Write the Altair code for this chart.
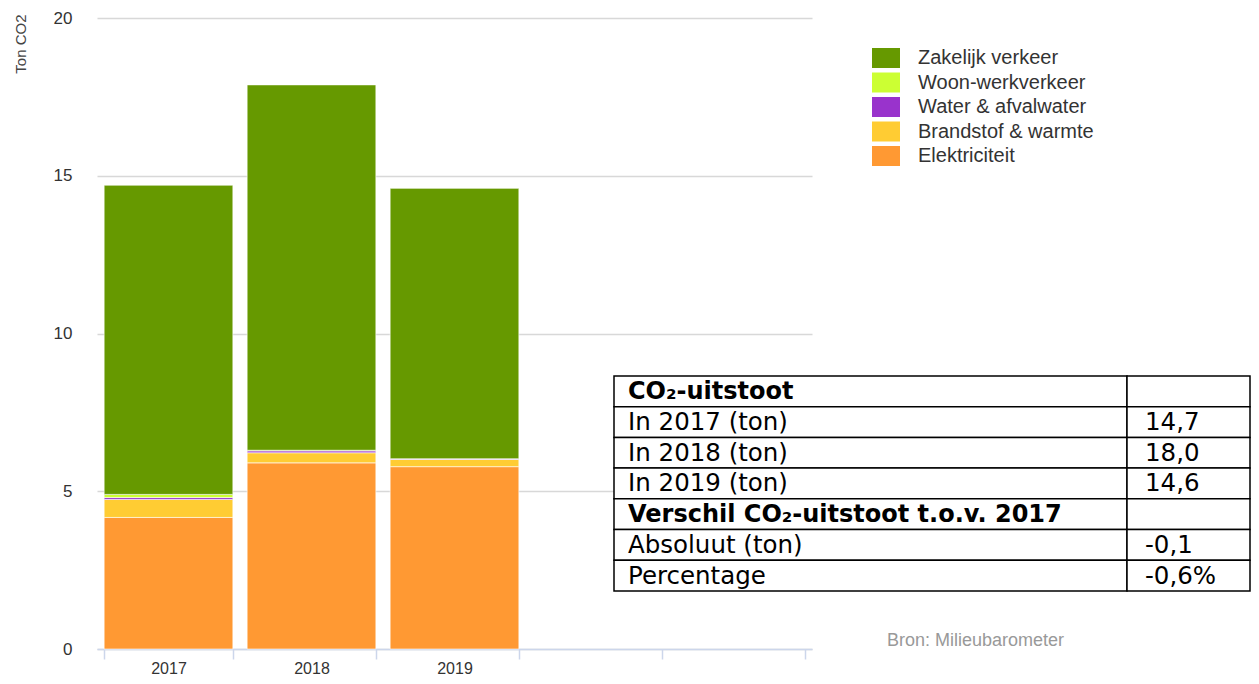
import altair as alt
import pandas as pd

years = ["2017", "2018", "2019"]
empty_slots = ["2020", "2021"]
categories = ["Elektriciteit", "Brandstof & warmte", "Water & afvalwater",
              "Woon-werkverkeer", "Zakelijk verkeer"]
colors = ["#ff9933", "#ffcc33", "#9933cc", "#ccff33", "#669900"]
elektriciteit = [4.17, 5.90, 5.78]
brandstof = [0.57, 0.32, 0.23]
water = [0.06, 0.06, 0.02]
woonwerk = [0.10, 0.02, 0.0]
zakelijk = [9.80, 11.58, 8.57]

table_labels = ["CO₂-uitstoot", "In 2017 (ton)", "In 2018 (ton)", "In 2019 (ton)",
                "Verschil CO₂-uitstoot t.o.v. 2017", "Absoluut (ton)", "Percentage"]
table_values = ["", "14,7", "18,0", "14,6", "", "-0,1", "-0,6%"]
table_bold = [True, False, False, False, True, False, False]

series = [elektriciteit, brandstof, water, woonwerk, zakelijk]
rows = []
for ci, (cat, vals) in enumerate(zip(categories, series)):
    for y, v in zip(years, vals):
        rows.append({"jaar": y, "bron": cat, "waarde": v, "volgorde": ci})
df = pd.DataFrame(rows)

W, H = 715, 631
FONT = "Liberation Sans"

bars = alt.Chart(df).mark_bar(stroke="white", strokeWidth=1, strokeOpacity=0.6).encode(
    x=alt.X("jaar:N", scale=alt.Scale(domain=years + empty_slots, paddingInner=0.1, paddingOuter=0.05),
            axis=alt.Axis(title=None, labelAngle=0, tickBand="extent", tickSize=10,
                          tickColor="#ccd6eb", domainColor="#ccd6eb", tickWidth=1.5, domainWidth=1.5,
                          grid=False,
                          labelExpr="datum.value > '2019' ? '' : datum.value",
                          labelFontSize=16, labelColor="#333", labelFont=FONT, labelPadding=1)),
    y=alt.Y("waarde:Q", stack="zero", scale=alt.Scale(domain=[0, 20]),
            axis=alt.Axis(title="Ton CO2", values=[0, 5, 10, 15, 20], ticks=False,
                          domain=False, gridColor="#d8d8d8", gridWidth=1.5,
                          labelFontSize=17, labelColor="#333", labelFont=FONT, labelPadding=25,
                          titleFont=FONT, titleFontSize=15, titleFontWeight="normal",
                          titleColor="#444", titleAngle=-90, titleAlign="right",
                          titleBaseline="middle", titleX=-77, titleY=-4)),
    color=alt.Color("bron:N", scale=alt.Scale(domain=categories, range=colors),
                    legend=alt.Legend(title=None, orient="none", legendX=779, legendY=30,
                                      symbolType="M-1.4,-1H1.4V1H-1.4Z", symbolSize=400,
                                      symbolStrokeWidth=0, labelFontSize=20, labelFont=FONT,
                                      labelColor="#333", labelOffset=22, rowPadding=4.5,
                                      labelLimit=400, values=categories[::-1])),
    order=alt.Order("volgorde:Q", sort="ascending"),
)

tdf = pd.DataFrame({"label": table_labels, "waarde": table_values, "vet": table_bold,
                    "i": list(range(len(table_labels)))})
row_h = 30.7
top = 358
tbase = alt.Chart(tdf).transform_calculate(
    y0=f"{top} + datum.i * {row_h}",
    y1=f"{top} + (datum.i + 1) * {row_h}",
    ym=f"{top} + (datum.i + 0.5) * {row_h} + 1",
)
cell_left = tbase.mark_rect(fill="white", stroke="black", strokeWidth=1.5).encode(
    x=alt.value(517), x2=alt.value(1030),
    y=alt.Y("y0:Q", scale=None, axis=None), y2=alt.Y2("y1:Q"))
cell_right = tbase.mark_rect(fill="white", stroke="black", strokeWidth=1.5).encode(
    x=alt.value(1030), x2=alt.value(1153),
    y=alt.Y("y0:Q", scale=None, axis=None), y2=alt.Y2("y1:Q"))
txt_norm = tbase.transform_filter("!datum.vet").mark_text(
    align="left", baseline="middle", font="DejaVu Sans", fontSize=24.5, color="black").encode(
    x=alt.value(531), y=alt.Y("ym:Q", scale=None, axis=None), text="label:N")
txt_bold = tbase.transform_filter("datum.vet").mark_text(
    align="left", baseline="middle", font="DejaVu Sans", fontSize=24, fontWeight="bold",
    color="black").encode(
    x=alt.value(531), y=alt.Y("ym:Q", scale=None, axis=None), text="label:N")
txt_val = tbase.mark_text(
    align="left", baseline="middle", font="DejaVu Sans", fontSize=24.5, color="black").encode(
    x=alt.value(1048), y=alt.Y("ym:Q", scale=None, axis=None), text="waarde:N")

bron = alt.Chart(pd.DataFrame({"t": ["Bron: Milieubarometer"]})).mark_text(
    align="left", baseline="middle", font=FONT, fontSize=18, color="#999").encode(
    x=alt.value(790), y=alt.value(623), text="t:N")

chart = alt.layer(bars, cell_left, cell_right, txt_norm, txt_bold, txt_val, bron).properties(
    width=W, height=H,
    autosize=alt.AutoSizeParams(type="none"),
    padding={"left": 89, "top": 10, "right": 439, "bottom": 27},
).configure_view(stroke=None)

chart.save("out.html", embed_options={"renderer": "svg", "actions": False})
